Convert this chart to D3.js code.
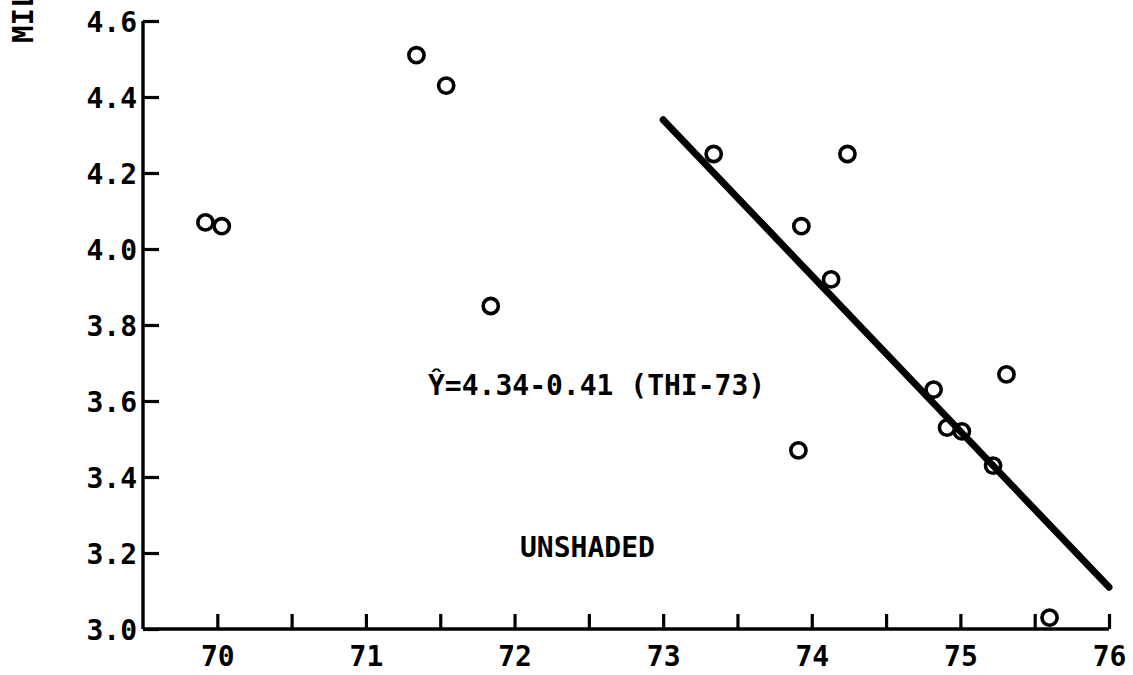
<!DOCTYPE html>
<html>
<head>
<meta charset="utf-8">
<script src="https://cdn.jsdelivr.net/npm/d3@7"></script>
<style>
  html, body { margin: 0; padding: 0; background: #fff; }
  svg { display: block; }
  text { font-family: "DejaVu Sans Mono", monospace; font-weight: bold; fill: #000; }
</style>
</head>
<body>
<script>
// Milk yield vs. temperature-humidity index (unshaded cows)
const thi   = [69.92, 70.03, 71.34, 71.54, 71.84, 73.34, 73.93, 74.24, 74.13, 73.91, 74.82, 74.91, 75.01, 75.31, 75.22, 75.60];
const yieldKg = [4.07, 4.06, 4.51, 4.43, 3.85, 4.25, 4.06, 4.25, 3.92, 3.47, 3.63, 3.53, 3.52, 3.67, 3.43, 3.03];

// Fitted line: Y = 4.34 - 0.41 (THI - 73), drawn over THI 73..76
const fitIntercept = 4.34;
const fitSlope = -0.41;
const fitCentre = 73;
const fitRange = [73, 76];

const xTicks = [70, 70.5, 71, 71.5, 72, 72.5, 73, 73.5, 74, 74.5, 75, 75.5, 76];
const yTicks = [3.0, 3.2, 3.4, 3.6, 3.8, 4.0, 4.2, 4.4, 4.6];

const equationLabel = "\u0176=4.34-0.41 (THI-73)";
const groupLabel = "UNSHADED";
const yTitle = "MILK YIELD, KG";

const W = 1133, H = 675;
const svg = d3.select("body").append("svg").attr("width", W).attr("height", H);

const x = d3.scaleLinear().domain([69.5, 76]).range([143, 1109]);
const y = d3.scaleLinear().domain([3.0, 4.6]).range([629, 21]);

const FS = 28;

// x axis: ticks point up into the plot, labels on whole numbers
const xAxis = d3.axisBottom(x)
  .tickValues(xTicks)
  .tickSize(-15)
  .tickPadding(17)
  .tickFormat(d => Number.isInteger(d) ? d3.format("d")(d) : "");
const gx = svg.append("g").attr("transform", `translate(0,${y(3.0)})`).call(xAxis);
gx.select(".domain").attr("d", `M${x(69.5)},0H${x(76)}`);

// y axis: ticks point right into the plot
const yAxis = d3.axisLeft(y)
  .tickValues(yTicks)
  .tickSize(-16)
  .tickPadding(6)
  .tickFormat(d3.format(".1f"));
const gy = svg.append("g").attr("transform", `translate(${x(69.5)},0)`).call(yAxis);
gy.select(".domain").attr("d", `M0,${y(4.6)}V${y(3.0)}`);

svg.selectAll(".domain").attr("stroke", "#000").attr("stroke-width", 3.4).attr("fill", "none");
svg.selectAll(".tick line").attr("stroke", "#000").attr("stroke-width", 3.2);
svg.selectAll(".tick text")
  .attr("font-size", FS)
  .attr("font-family", "DejaVu Sans Mono, monospace")
  .attr("font-weight", "bold")
  .attr("fill", "#000");
gy.selectAll(".tick text").attr("dy", "0.36em");

// y title (runs off the top edge)
svg.append("text")
  .attr("transform", `translate(${33},${43}) rotate(-90)`)
  .attr("font-size", 29)
  .text(yTitle);

// fitted regression line
const fit = t => fitIntercept + fitSlope * (t - fitCentre);
const line = d3.line().x(d => x(d)).y(d => y(fit(d)));
svg.append("path")
  .datum(fitRange)
  .attr("d", line)
  .attr("fill", "none")
  .attr("stroke", "#000")
  .attr("stroke-width", 7)
  .attr("stroke-linecap", "round");

// observations
const pts = thi.map((t, i) => ({ t, v: yieldKg[i] }));
svg.append("g").selectAll("circle")
  .data(pts)
  .join("circle")
  .attr("cx", d => x(d.t))
  .attr("cy", d => y(d.v))
  .attr("r", 7.6)
  .attr("fill", "none")
  .attr("stroke", "#000")
  .attr("stroke-width", 3.6);

// annotations
svg.append("text")
  .attr("x", 428).attr("y", 395)
  .attr("font-size", FS)
  .text(equationLabel);

svg.append("text")
  .attr("x", 520).attr("y", 557)
  .attr("font-size", FS)
  .text(groupLabel);
</script>
</body>
</html>
